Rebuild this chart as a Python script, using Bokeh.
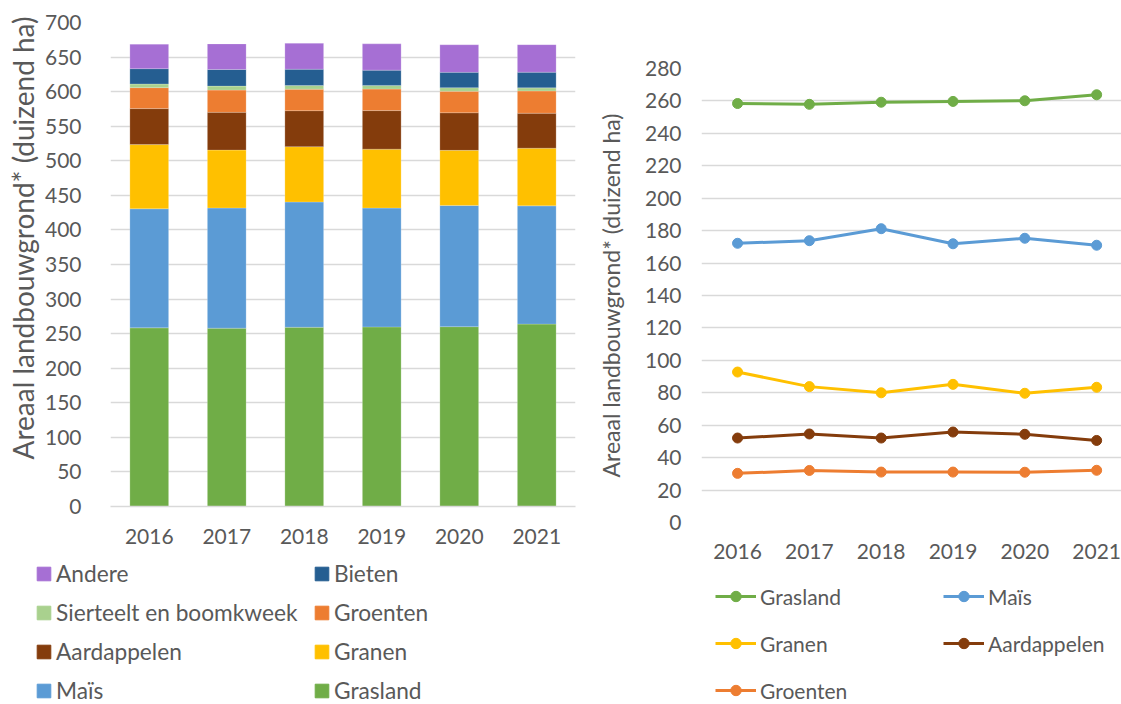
from bokeh.plotting import figure
from bokeh.layouts import row, column
from bokeh.models import (ColumnDataSource, Legend, LegendItem, Title, FixedTicker,
                          Range1d, FactorRange)
from bokeh.embed import file_html
from bokeh.resources import INLINE

FONT = "Lato"
TXT = "#595959"
GRID = "#D9D9D9"

years = ["2016", "2017", "2018", "2019", "2020", "2021"]
year_num = [2016, 2017, 2018, 2019, 2020, 2021]

grasland = [258.4, 257.9, 259.2, 259.7, 260.1, 263.8]
mais = [172.2, 173.8, 181.2, 171.9, 175.3, 171.0]
granen = [92.8, 83.8, 80.0, 85.2, 79.7, 83.4]
aardappelen = [52.1, 54.6, 52.1, 55.8, 54.4, 50.6]
groenten = [30.3, 32.1, 31.1, 31.1, 31.0, 32.2]
sierteelt = [5.3, 5.8, 5.3, 5.3, 5.3, 4.5]
bieten = [22.1, 24.0, 23.5, 22.1, 22.1, 22.6]
andere = [35.5, 37.0, 37.5, 38.0, 39.9, 39.9]

names = ["Grasland", "Maïs", "Granen", "Aardappelen", "Groenten",
         "Sierteelt en boomkweek", "Bieten", "Andere"]
colors = ["#70AD47", "#5B9BD5", "#FFC000", "#843C0C", "#ED7D31",
          "#A9D18E", "#255E91", "#A66FD4"]
series = [grasland, mais, granen, aardappelen, groenten, sierteelt, bieten, andere]

y_label = "Areaal landbouwgrond* (duizend ha)"


def legend_fig(w, h):
    # legend-only strip: its ranges keep the legend-sample glyphs out of view
    f = figure(width=w, height=h, x_range=Range1d(0, 1), y_range=Range1d(0, 1),
               output_backend="svg", toolbar_location=None,
               x_axis_location=None, y_axis_location=None, min_border=0)
    f.frame_align = False
    f.grid.visible = False
    f.outline_line_color = None
    return f


# ---------------- left: stacked bars ----------------
data = {"year": years}
for n, s in zip(names, series):
    data[n] = s
src = ColumnDataSource(data)

p1 = figure(x_range=FactorRange(*years), y_range=Range1d(0, 700),
            width=593, height=556, output_backend="svg", toolbar_location=None,
            min_border_left=110, min_border_right=18, min_border_top=22,
            min_border_bottom=50)
p1.frame_align = False
p1.outline_line_color = None
p1.vbar_stack(names, x="year", width=0.5, color=colors, source=src,
              line_color="white", line_width=0.5, line_alpha=0.4)

p1.yaxis.ticker = FixedTicker(ticks=list(range(0, 701, 50)))
p1.ygrid.ticker = FixedTicker(ticks=list(range(0, 701, 50)))
p1.xgrid.visible = False
p1.ygrid.grid_line_color = GRID
p1.ygrid.grid_line_width = 1.3
for ax in (p1.xaxis, p1.yaxis):
    ax.major_tick_line_color = None
    ax.minor_tick_line_color = None
    ax.major_label_text_font = FONT
    ax.major_label_text_font_size = "21px"
    ax.major_label_text_color = TXT
p1.yaxis.axis_line_color = None
p1.xaxis.axis_line_color = GRID
p1.xaxis.axis_line_width = 1.3
p1.yaxis.major_label_standoff = 23
p1.xaxis.major_label_standoff = 16

p1.add_layout(Title(text=y_label, align="left", offset=47, standoff=4,
                    text_font=FONT, text_font_size="28px", text_font_style="normal",
                    text_color=TXT), "left")

lf1 = legend_fig(593, 148)
samples1 = [lf1.vbar(x=year_num, top=s, width=0.5, color=c)
            for s, c in zip(series, colors)]
order = [7, 6, 5, 4, 3, 2, 1, 0]
leg1 = Legend(items=[LegendItem(label=names[i], renderers=[samples1[i]]) for i in order],
              orientation="horizontal", ncols=2, location=(35, 0),
              padding=0, margin=0, spacing=12, glyph_width=17, glyph_height=17,
              label_height=26, label_width=245, label_standoff=4,
              label_text_font=FONT, label_text_font_size="22.7px",
              label_text_color=TXT, border_line_color=None,
              background_fill_alpha=0)
lf1.add_layout(leg1, "center")

# ---------------- right: lines ----------------
p2 = figure(x_range=Range1d(2015.498, 2021.346), y_range=Range1d(0, 280),
            width=528, height=570, output_backend="svg", toolbar_location=None,
            min_border_left=105, min_border_right=0, min_border_top=68,
            min_border_bottom=48)
p2.frame_align = False
p2.outline_line_color = None
line_series = [(0, grasland), (1, mais), (2, granen), (3, aardappelen), (4, groenten)]
for i, s in line_series:
    p2.line(year_num, s, line_color=colors[i], line_width=3)
    p2.scatter(year_num, s, size=10, color=colors[i])

p2.xaxis.ticker = FixedTicker(ticks=year_num)
p2.yaxis.ticker = FixedTicker(ticks=list(range(0, 281, 20)))
p2.ygrid.ticker = FixedTicker(ticks=list(range(0, 281, 20)))
p2.xgrid.visible = False
p2.ygrid.grid_line_color = GRID
p2.ygrid.grid_line_width = 1.3
for ax in (p2.xaxis, p2.yaxis):
    ax.major_tick_line_color = None
    ax.minor_tick_line_color = None
    ax.axis_line_color = None
    ax.major_label_text_font = FONT
    ax.major_label_text_font_size = "21px"
    ax.major_label_text_color = TXT
p2.yaxis.major_label_standoff = 14
p2.xaxis.major_label_standoff = 15
p2.yaxis.axis_label = y_label
p2.yaxis.axis_label_text_font = FONT
p2.yaxis.axis_label_text_font_size = "23px"
p2.yaxis.axis_label_text_font_style = "normal"
p2.yaxis.axis_label_text_color = TXT
p2.yaxis.axis_label_standoff = 17

lf2 = legend_fig(528, 134)
items2 = []
for i, s in line_series:
    sl = lf2.line(year_num, s, line_color=colors[i], line_width=3)
    sm = lf2.scatter(year_num, s, size=10, color=colors[i])
    items2.append(LegendItem(label=names[i], renderers=[sl, sm]))
leg2 = Legend(items=items2, orientation="horizontal", ncols=2, location=(122, 1),
              padding=0, margin=0, spacing=21, glyph_width=41, glyph_height=26,
              label_height=26, label_width=162, label_standoff=4,
              label_text_font=FONT, label_text_font_size="21px",
              label_text_color=TXT, border_line_color=None,
              background_fill_alpha=0)
lf2.add_layout(leg2, "center")

layout = row(column(p1, lf1), column(p2, lf2))
open("out.html", "w").write(file_html(layout, INLINE))
